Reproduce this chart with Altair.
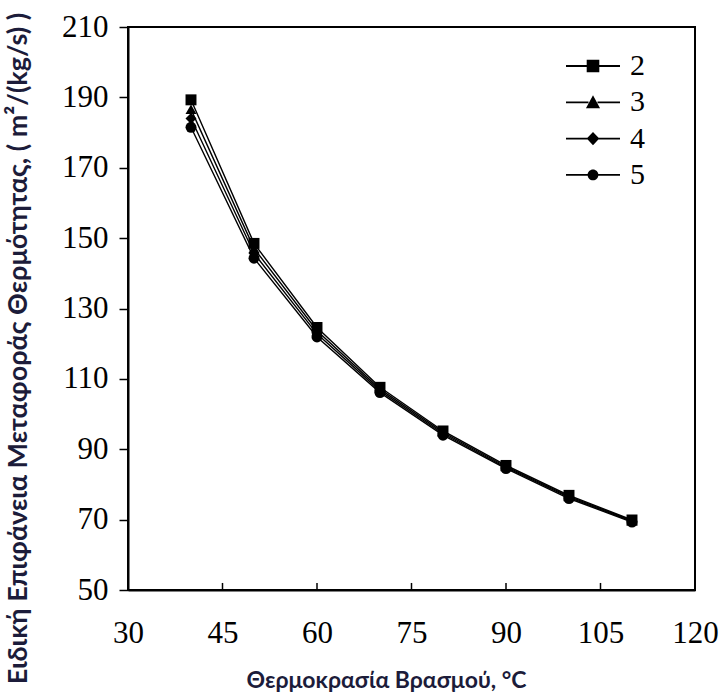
import altair as alt
import pandas as pd

temps = [40, 50, 60, 70, 80, 90, 100, 110]
series_names = ["2", "3", "4", "5"]
s2 = [189.3, 148.5, 124.6, 107.6, 95.2, 85.4, 76.9, 69.9]
s3 = [186.6, 147.1, 123.7, 107.1, 94.8, 85.1, 76.6, 69.7]
s4 = [184.0, 145.7, 122.8, 106.6, 94.4, 84.8, 76.3, 69.5]
s5 = [181.5, 144.3, 121.9, 106.1, 94.0, 84.5, 76.0, 69.3]
x_ticks = [30, 45, 60, 75, 90, 105, 120]
x_inner_ticks = [45, 60, 75, 90, 105]
y_ticks = [50, 70, 90, 110, 130, 150, 170, 190, 210]

rows = []
for name, vals in zip(series_names, [s2, s3, s4, s5]):
    for t, v in zip(temps, vals):
        rows.append({"T": t, "A": v, "series": name})
df = pd.DataFrame(rows)
tick_df = pd.DataFrame({"T": x_inner_ticks})

SERIF = "'Times New Roman', 'Liberation Serif', serif"
SANS = "Lato"
TITLE_COLOR = "#1c1c3a"

x_scale = alt.Scale(domain=[30, 120], nice=False, zero=False)
y_scale = alt.Scale(domain=[50, 210], nice=False, zero=False)

x_enc = alt.X(
    "T:Q",
    scale=x_scale,
    axis=alt.Axis(
        values=x_ticks,
        title="Θερμοκρασία Βρασμού, °C",
        titleFont=SANS,
        titleFontSize=23,
        titleFontWeight="bold",
        titleColor=TITLE_COLOR,
        titleX=258,
        titleY=90,
        titleAlign="center",
        titleBaseline="middle",
        labelFont=SERIF,
        labelFontSize=31,
        labelColor="black",
        labelPadding=28,
        labelFlush=False,
        labelOverlap=False,
        tickSize=0,
        grid=False,
        domainColor="black",
        domainWidth=2,
    ),
)
y_enc = alt.Y(
    "A:Q",
    scale=y_scale,
    axis=alt.Axis(
        values=y_ticks,
        title="Ειδική Επιφάνεια Μεταφοράς Θερμότητας, ( m²/(kg/s) )",
        titleFont=SANS,
        titleFontSize=27,
        titleFontWeight="bold",
        titleColor=TITLE_COLOR,
        titleAngle=270,
        titleX=-110,
        titleY=321,
        titleAlign="center",
        titleBaseline="middle",
        labelFont=SERIF,
        labelFontSize=31,
        labelColor="black",
        labelPadding=11,
        labelFlush=False,
        labelOverlap=False,
        tickSize=9,
        tickColor="black",
        tickWidth=1.5,
        grid=False,
        domainColor="black",
        domainWidth=2,
    ),
)

lines = alt.Chart(df).mark_line(color="black", strokeWidth=1.4).encode(
    x=x_enc, y=y_enc, detail="series:N"
)

points = alt.Chart(df).mark_point(filled=True, color="black", opacity=1, size=120).encode(
    x="T:Q",
    y="A:Q",
    shape=alt.Shape(
        "series:N",
        scale=alt.Scale(domain=series_names, range=["square", "triangle-up", "diamond", "circle"]),
        legend=None,
    ),
)

LINE_L = "M-1.8,-0.06H-0.3V0.06H-1.8Z"
LINE_R = "M0.3,-0.06H1.8V0.06H0.3Z"
legend_paths = [
    LINE_L + LINE_R + "M-0.42,-0.42H0.42V0.42H-0.42Z",
    LINE_L + LINE_R + "M0,-0.47L0.47,0.4L-0.47,0.4Z",
    LINE_L + LINE_R + "M0,-0.44L0.42,0L0,0.44L-0.42,0Z",
    LINE_L + LINE_R + "M-0.36,0A0.36,0.36,0,1,1,0.36,0A0.36,0.36,0,1,1,-0.36,0Z",
]

legend_layer = alt.Chart(df).mark_point(
    filled=True, color="black", opacity=0
).encode(
    x="T:Q",
    y="A:Q",
    shape=alt.Shape(
        "series:N",
        scale=alt.Scale(domain=series_names, range=legend_paths),
        legend=alt.Legend(
            title=None,
            orient="none",
            legendX=450,
            legendY=24,
            symbolSize=900,
            symbolOpacity=1,
            symbolFillColor="black",
            symbolStrokeWidth=0,
            labelFont=SERIF,
            labelFontSize=30,
            labelColor="black",
            labelOffset=22,
            rowPadding=6.3,
        ),
    ),
)

inner_ticks = alt.Chart(tick_df).mark_rule(color="black", strokeWidth=1.5).encode(
    x=alt.X("T:Q", scale=x_scale),
    y=alt.datum(50),
    y2=alt.datum(52),
)

chart = (
    alt.layer(lines, points, legend_layer, inner_ticks)
    .resolve_scale(shape="independent")
    .properties(
        width=567,
        height=563,
        autosize=alt.AutoSizeParams(type="none"),
        padding={"left": 128, "top": 27, "right": 28, "bottom": 109},
        background="white",
    )
    .configure_view(stroke="black", strokeWidth=2)
)

chart.save("out.html", embed_options={"renderer": "svg", "actions": False})
